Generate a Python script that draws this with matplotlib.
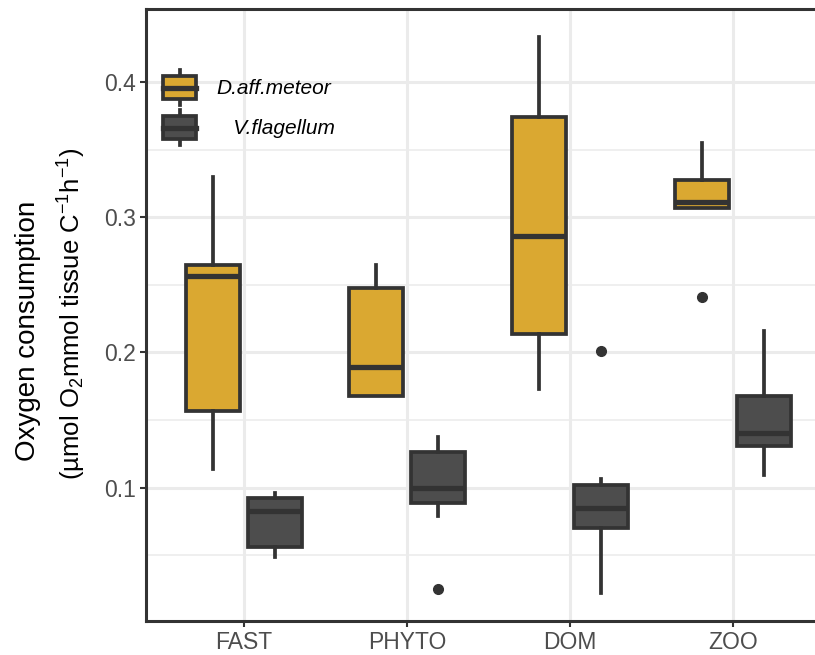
import matplotlib
matplotlib.use('Agg')
import matplotlib.pyplot as plt
import numpy as np
from matplotlib.legend_handler import HandlerBase
from matplotlib.patches import Rectangle, Patch
from matplotlib.lines import Line2D

plt.rcParams['font.family'] = 'Liberation Sans'
plt.rcParams['mathtext.fontset'] = 'custom'
plt.rcParams['mathtext.rm'] = 'Liberation Sans'
plt.rcParams['mathtext.it'] = 'Liberation Sans:italic'

categories = ['FAST', 'PHYTO', 'DOM', 'ZOO']
species = ['D.aff.meteor', 'V.flagellum']
legend_labels = ['D.aff.meteor', '   V.flagellum']
colors = ['#DAA831', '#4D4D4D']

# box stats, one list per species, in category order
meteor_whislo = [0.114, 0.168, 0.173, 0.307]
meteor_q1 = [0.157, 0.168, 0.214, 0.307]
meteor_med = [0.2565, 0.189, 0.286, 0.311]
meteor_q3 = [0.265, 0.248, 0.374, 0.3275]
meteor_whishi = [0.3295, 0.2645, 0.4336, 0.355]
meteor_fliers = [[], [], [], [0.241]]

flag_whislo = [0.0483, 0.0786, 0.0218, 0.1089]
flag_q1 = [0.0557, 0.0882, 0.0697, 0.131]
flag_med = [0.0823, 0.100, 0.0852, 0.1406]
flag_q3 = [0.0919, 0.1266, 0.1015, 0.168]
flag_whishi = [0.0963, 0.1376, 0.1066, 0.216]
flag_fliers = [[], [0.0247], [0.2011], []]

series = [
    (meteor_whislo, meteor_q1, meteor_med, meteor_q3, meteor_whishi, meteor_fliers),
    (flag_whislo, flag_q1, flag_med, flag_q3, flag_whishi, flag_fliers),
]

edge = '#333333'
fig = plt.figure(figsize=(8.15, 6.55), dpi=100)
ax = fig.add_axes([146 / 815, 34 / 655, 685 / 815, 612 / 655])

x = np.arange(1, len(categories) + 1)
offsets = [-0.19, 0.19]
for (wlo, q1, med, q3, whi, fl), off, col in zip(series, offsets, colors):
    stats = []
    for i in range(len(categories)):
        stats.append(dict(whislo=wlo[i], q1=q1[i], med=med[i], q3=q3[i],
                          whishi=whi[i], fliers=fl[i]))
    ax.bxp(stats, positions=x + off, widths=0.335, patch_artist=True,
           showcaps=False, manage_ticks=False,
           boxprops=dict(facecolor=col, edgecolor=edge, linewidth=2.7),
           medianprops=dict(color=edge, linewidth=3.8, solid_capstyle='butt'),
           whiskerprops=dict(color=edge, linewidth=2.7),
           flierprops=dict(marker='o', markerfacecolor=edge, markeredgecolor=edge,
                           markersize=7))

ax.set_xlim(0.4, 4.6)
ax.set_ylim(0.0012, 0.4542)
ax.set_xticks(x)
ax.set_xticklabels(categories)
ax.set_yticks([0.1, 0.2, 0.3, 0.4])
ax.set_yticks([0.05, 0.15, 0.25, 0.35], minor=True)
ax.tick_params(axis='both', which='major', labelsize=16.5, labelcolor='#4D4D4D',
               color=edge, length=4.5, width=1.5, pad=3)
ax.tick_params(axis='y', which='minor', length=0)
ax.grid(True, which='major', color='#EBEBEB', linewidth=2.2)
ax.grid(True, which='minor', axis='y', color='#EBEBEB', linewidth=1.1)
ax.set_axisbelow(True)
for s in ax.spines.values():
    s.set_color(edge)
    s.set_linewidth(2.2)

# two-line y title, drawn as separate texts so each line can be placed
fig.text(28 / 815, 1 - 331 / 655, 'Oxygen consumption', rotation=90,
         ha='center', va='center', fontsize=20)
fig.text(72 / 815, 1 - 314 / 655, '(µmol O$_2$mmol tissue C$^{-1}$h$^{-1}$)',
         rotation=90, ha='center', va='center', fontsize=18.5)


class BoxKey(HandlerBase):
    def create_artists(self, legend, orig_handle, xdescent, ydescent, width,
                       height, fontsize, trans):
        x0, y0 = -xdescent, -ydescent
        fc = orig_handle.get_facecolor()
        box = Rectangle((x0, y0 + 0.17 * height), width, 0.66 * height,
                        facecolor=fc, edgecolor=edge, linewidth=2.7, transform=trans)
        cx = x0 + width / 2
        w1 = Line2D([cx, cx], [y0, y0 + 0.17 * height], color=edge, lw=2.7, transform=trans)
        w2 = Line2D([cx, cx], [y0 + 0.83 * height, y0 + height], color=edge, lw=2.7,
                    transform=trans)
        md = Line2D([x0, x0 + width], [y0 + 0.5 * height] * 2, color=edge, lw=3.8,
                    transform=trans)
        return [w1, w2, box, md]


handles = [Patch(facecolor=c) for c in colors]
leg = ax.legend(handles, legend_labels, handler_map={Patch: BoxKey()},
                loc='upper left', bbox_to_anchor=(0.025, 0.90), frameon=False,
                borderpad=0, borderaxespad=0, handlelength=1.6, handleheight=2.2,
                labelspacing=0.25, handletextpad=0.95,
                prop=dict(size=15, style='italic'))

fig.savefig('out.png', dpi=100)
